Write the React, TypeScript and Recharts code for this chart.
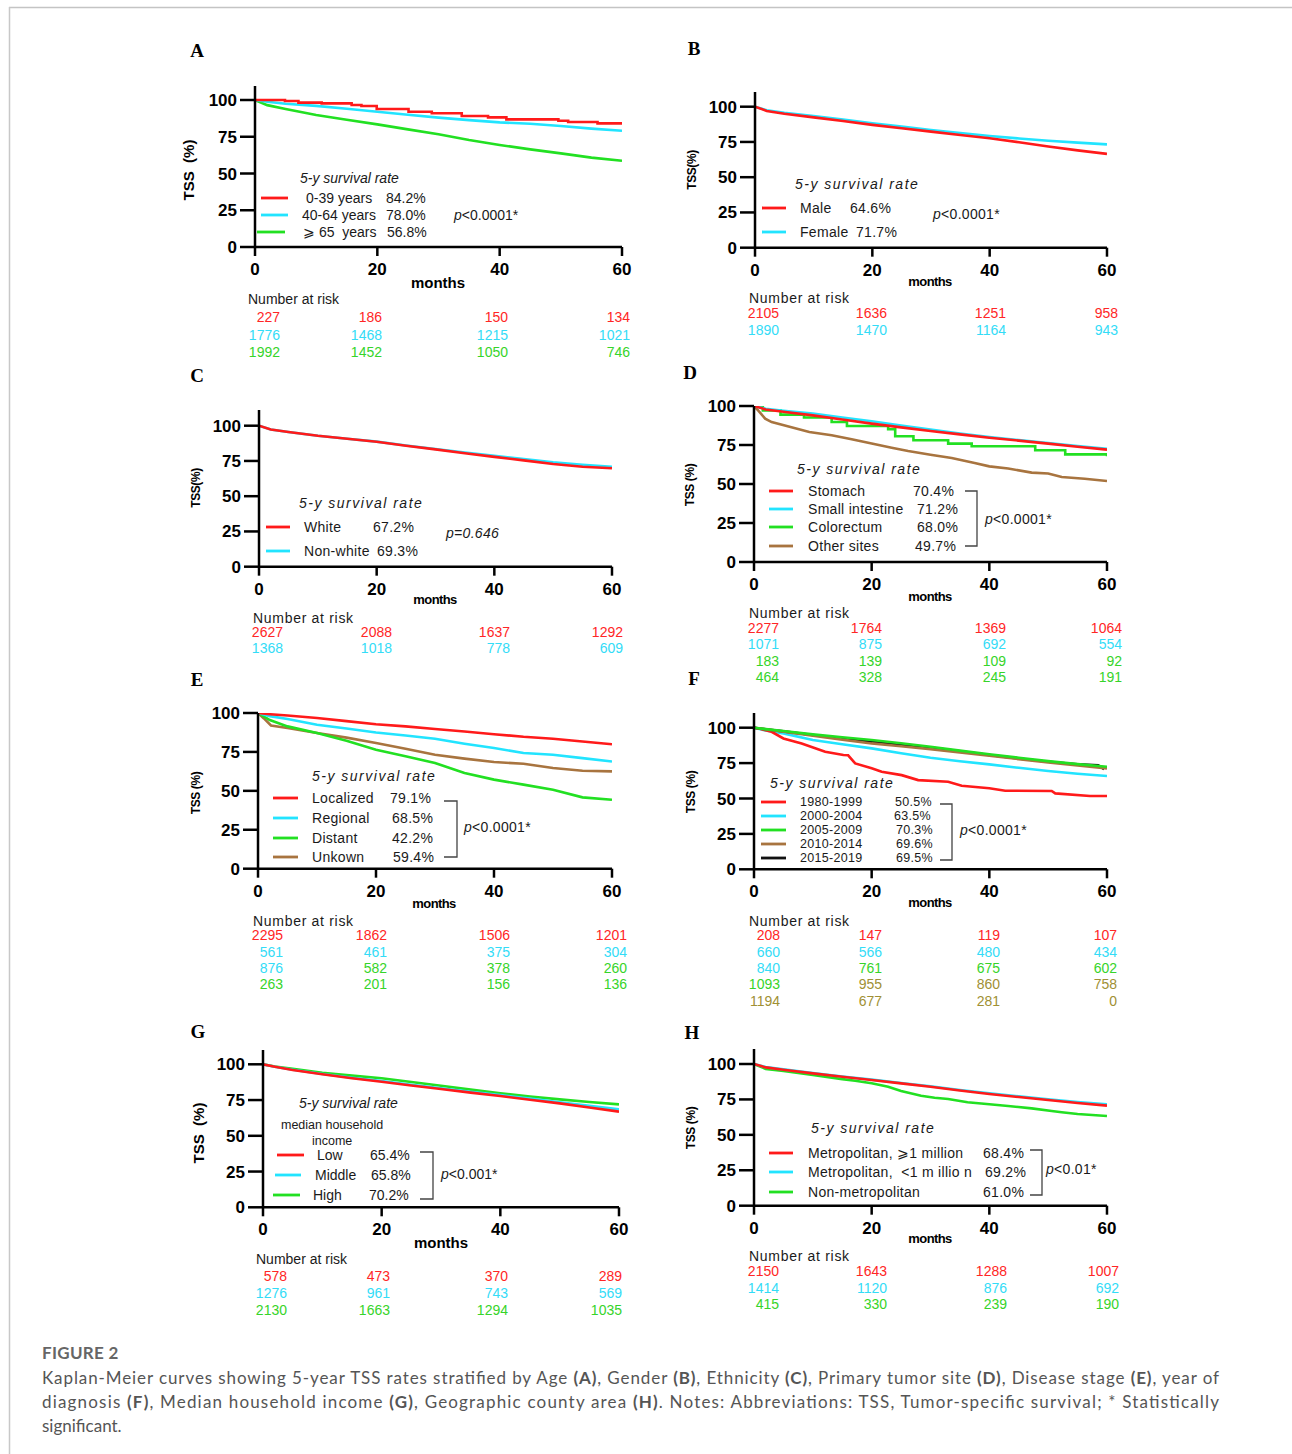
import React from 'react';
import { LineChart, Line, XAxis, YAxis } from 'recharts';

const SANS = '"Liberation Sans", Arial, sans-serif';
const SERIF = '"Liberation Serif", "Times New Roman", serif';
const CAPTION_FONT = 'Lato, "Open Sans", sans-serif';

const RED = '#ff1a1a';
const CYAN = '#22e4ff';
const GREEN = '#22e022';
const BROWN = '#a8743f';
const BLACK = '#111111';
const TRED = '#ff2626';
const TCYAN = '#33dcf7';
const TGREEN = '#36d42a';
const OLIVE = '#a09034';

// shared time grid (months)
const months = [0, 2, 5, 10, 15, 20, 25, 30, 35, 40, 45, 50, 55, 60];

// A - age
const ageYoungMonths = [0, 4.9, 7.1, 10.9, 15.8, 17.4, 19.9, 25.1, 28.9, 33.8, 38.1, 41.1, 49.6, 51.2, 56, 60];
const ageYoung = [100, 99.3, 98.2, 97.7, 96.6, 95.9, 93.9, 92, 91, 89.1, 88.2, 86.8, 85.9, 85, 84.1, 84.1];
const ageMiddle = [100, 98.8, 97.5, 96, 94, 92, 90, 88, 86.3, 84.8, 83.8, 82.3, 80.5, 79.1];
const ageOld = [100, 96.5, 93.9, 89.8, 86.6, 83.4, 80, 76.7, 72.8, 69.4, 66.4, 63.7, 60.8, 58.7];
const ageRisk = [[227, 186, 150, 134], [1776, 1468, 1215, 1021], [1992, 1452, 1050, 746]];

// B - gender
const male = [100, 97, 95, 92.4, 89.8, 87.1, 84.7, 82.3, 79.9, 77.6, 74.8, 71.8, 69, 66.5];
const female = [100, 97.5, 95.6, 93.4, 90.9, 88.2, 85.9, 83.5, 81.3, 79.2, 77.5, 75.9, 74.5, 73.3];
const genderRisk = [[2105, 1636, 1251, 958], [1890, 1470, 1164, 943]];

// C - ethnicity
const white = [100, 97.3, 95.5, 92.9, 90.8, 88.6, 85.8, 83.2, 80.5, 77.9, 75.4, 72.8, 70.9, 69.8];
const nonWhite = [100, 97.3, 95.5, 92.9, 90.8, 88.7, 86, 83.5, 81, 78.7, 76.4, 74, 72.3, 70.9];
const raceRisk = [[2627, 2088, 1637, 1292], [1368, 1018, 778, 609]];

// D - primary site
const stomach = [100, 97.8, 96.3, 94, 91.3, 88.7, 86.3, 84, 81.8, 79.7, 77.8, 75.9, 73.9, 72];
const smallIntestine = [100, 98.2, 97, 95.1, 92.6, 90.2, 87.5, 84.9, 82.4, 80.1, 78.2, 76.3, 74.4, 72.6];
const colorectumMonths = [0, 1.5, 4.5, 8.5, 13.2, 15.8, 22.8, 24, 27.1, 33, 37, 47.8, 52.9, 60];
const colorectum = [100, 97.2, 94.5, 92.6, 89.7, 87.2, 85.1, 80.6, 78, 75.9, 74.2, 71.6, 69, 67.8];
const otherMonths = [0, 0.7, 1.9, 3, 4.6, 9.4, 13.2, 16.6, 20, 23.4, 26.2, 30, 33.6, 37.5, 40, 43.2, 47.2, 50, 52.3, 56.2, 60];
const otherSites = [100, 97.2, 91.9, 89.7, 88.1, 83.3, 81.2, 78.7, 75.9, 73.3, 71.2, 68.8, 66.7, 63.5, 61.3, 59.9, 57.3, 56.7, 54.5, 53.4, 51.9];
const siteRisk = [[2277, 1764, 1369, 1064], [1071, 875, 692, 554], [183, 139, 109, 92], [464, 328, 245, 191]];

// E - stage
const localized = [100, 99.2, 98.4, 96.8, 94.8, 92.8, 91.4, 89.7, 88.1, 86.4, 84.7, 83.5, 81.7, 79.9];
const regional = [100, 98, 96.2, 92.5, 90, 87.5, 85.6, 83.5, 80.3, 77.5, 74.3, 73.2, 71, 68.8];
const distant = [100, 95.5, 91.4, 87.2, 82.1, 76.4, 72.2, 67.9, 61.5, 57.2, 54, 50.7, 45.8, 44.3];
const unknownMonths = [0, 1, 2.2, 5, 10, 15, 20, 25, 30, 35, 40, 45, 50, 55, 60];
const unknownStage = [100, 96.5, 92, 90.4, 87.2, 84.2, 80.7, 77.1, 73.2, 70.7, 68.5, 67.4, 64.7, 62.9, 62.5];
const stageRisk = [[2295, 1862, 1506, 1201], [561, 461, 375, 304], [876, 582, 378, 260], [263, 201, 156, 136]];

// F - year of diagnosis
const y8099Months = [0, 1, 3, 5, 8.1, 12.1, 15.2, 16, 17.2, 20, 21.7, 25.1, 27.9, 33, 35.3, 40, 42.7, 50.6, 51.2, 57.1, 60];
const y8099 = [100, 99.2, 97.1, 92.4, 88.9, 83, 80.7, 80.5, 74.8, 71.3, 68.9, 66.5, 63, 61.8, 59, 57.2, 55.5, 55.3, 53.6, 51.8, 51.8];
const y0004 = [100, 98, 96, 91.3, 88.3, 85.4, 82, 78.8, 76.3, 74.1, 71.7, 69.4, 67.5, 65.9];
const y0509 = [100, 99, 97.7, 95.3, 93.3, 91.3, 89, 86.5, 83.8, 81.2, 78.8, 76.4, 74.3, 72.4];
const y1014 = [100, 98.8, 97.2, 94.3, 91.6, 88.9, 86.9, 84.9, 82.5, 80.2, 77.8, 75.5, 73.3, 71.3];
const y1519Months = [0, 2, 5, 10, 15, 20, 25, 30, 35, 40, 45, 50, 55, 58.5, 59.5];
const y1519 = [100, 98.9, 97.4, 94.8, 92.4, 90.1, 88, 85.9, 83.3, 80.7, 78.3, 76, 74.2, 73.5, 70.8];
const yearRisk = [[208, 147, 119, 107], [660, 566, 480, 434], [840, 761, 675, 602], [1093, 955, 860, 758], [1194, 677, 281, 0]];

// G - income
const incomeLow = [100, 98.3, 96, 93, 90.2, 87.8, 85.2, 82.7, 80.2, 77.8, 75.2, 72.7, 69.8, 66.9];
const incomeMiddle = [100, 98.3, 96.2, 93.2, 90.6, 88.3, 85.7, 83.2, 80.8, 78.5, 76, 73.4, 70.9, 68.5];
const incomeHigh = [100, 98.5, 96.8, 94.1, 92.1, 90.2, 87.6, 85, 82.3, 79.7, 77.5, 75.5, 73.6, 72];
const incomeRisk = [[578, 473, 370, 289], [1276, 961, 743, 569], [2130, 1663, 1294, 1035]];

// H - county area
const metroLarge = [100, 97.6, 96, 93.4, 91, 88.7, 86.3, 84, 81.3, 78.8, 76.7, 74.6, 72.5, 70.6];
const metroSmall = [100, 97.8, 96.2, 93.6, 91.2, 89, 86.6, 84.3, 81.7, 79.3, 77.2, 75.1, 73.2, 71.6];
const nonMetroMonths = [0, 2, 5, 10, 15, 17.2, 20, 22.8, 25, 28.4, 30.7, 33, 36.3, 40, 43.2, 47.2, 50.6, 52.3, 55, 60];
const nonMetro = [100, 96.5, 95, 92.2, 89.3, 88.2, 86.4, 84, 80.9, 77.6, 76.2, 75.3, 73, 71.6, 70.4, 68.7, 66.8, 65.9, 64.7, 63.3];
const areaRisk = [[2150, 1643, 1288, 1007], [1414, 1120, 876, 692], [415, 330, 239, 190]];

const xTicks = [0, 20, 40, 60];
const yTicks = [0, 25, 50, 75, 100];

const same = (c: string) => [c, c, c, c];

type Series = { m: number[]; v: number[]; c: string; step?: boolean };
type LegendRow = { c: string; y: number; l1: number; l2: number; name: string; nx: number; pct: string; px: number };

const panels: any[] = [
  {
    letter: 'A', lx: 197, ly: 50, x0: 255, x1: 622, y100: 100, y0: 247, yTop: 86,
    series: [
      { m: months, v: ageOld, c: GREEN },
      { m: months, v: ageMiddle, c: CYAN },
      { m: ageYoungMonths, v: ageYoung, c: RED, step: true },
    ],
    ytitle: { text: 'TSS\u00a0\u00a0(%)', x: 188, y: 170, size: 15, ls: 0 },
    mlabel: { x: 438, y: 282, size: 15, ls: 0 },
    legend: {
      title: { x: 300, y: 178, ls: 0 }, ls: 0,
      rows: [
        { c: RED, y: 198, l1: 261, l2: 288, name: '0-39 years', nx: 306, pct: '84.2%', px: 386 },
        { c: CYAN, y: 215, l1: 261, l2: 288, name: '40-64 years', nx: 302, pct: '78.0%', px: 386 },
        { c: GREEN, y: 232, l1: 257, l2: 285, name: '\u2A7E 65\u00a0 years', nx: 303, pct: '56.8%', px: 387 },
      ],
      p: { x: 454, y: 215, text: '<0.0001*' },
    },
    risk: { x: 248, y: 299, ls: 0, rows: [317, 335, 352], cols: [280, 382, 508, 630], values: ageRisk, colors: [same(TRED), same(TCYAN), same(TGREEN)] },
  },
  {
    letter: 'B', lx: 694, ly: 48, x0: 755, x1: 1107, y100: 106.7, y0: 247.7, yTop: 92,
    series: [
      { m: months, v: female, c: CYAN },
      { m: months, v: male, c: RED },
    ],
    ytitle: { text: 'TSS(%)', x: 692, y: 170, size: 12, ls: -0.4 },
    mlabel: { x: 930, y: 281, size: 13, ls: -0.6 },
    legend: {
      title: { x: 795, y: 184, ls: 1.5 }, ls: 0.3,
      rows: [
        { c: RED, y: 208, l1: 762, l2: 786, name: 'Male', nx: 800, pct: '64.6%', px: 850 },
        { c: CYAN, y: 232, l1: 762, l2: 786, name: 'Female', nx: 800, pct: '71.7%', px: 856 },
      ],
      p: { x: 933, y: 214, text: '<0.0001*' },
    },
    risk: { x: 749, y: 298, ls: 0.7, rows: [313, 330], cols: [779, 887, 1006, 1118], values: genderRisk, colors: [same(TRED), same(TCYAN)] },
  },
  {
    letter: 'C', lx: 197, ly: 375, x0: 259, x1: 612, y100: 425.7, y0: 566.7, yTop: 410,
    series: [
      { m: months, v: nonWhite, c: CYAN },
      { m: months, v: white, c: RED },
    ],
    ytitle: { text: 'TSS(%)', x: 196, y: 488, size: 12, ls: -0.4 },
    mlabel: { x: 435, y: 599, size: 13, ls: -0.6 },
    legend: {
      title: { x: 299, y: 503, ls: 1.5 }, ls: 0.3,
      rows: [
        { c: RED, y: 527, l1: 266, l2: 290, name: 'White', nx: 304, pct: '67.2%', px: 373 },
        { c: CYAN, y: 551, l1: 266, l2: 290, name: 'Non-white', nx: 304, pct: '69.3%', px: 377 },
      ],
      p: { x: 446, y: 533, text: '=0.646', italic: true },
    },
    risk: { x: 253, y: 618, ls: 0.7, rows: [632, 648], cols: [283, 392, 510, 623], values: raceRisk, colors: [same(TRED), same(TCYAN)] },
  },
  {
    letter: 'D', lx: 690, ly: 372, x0: 754, x1: 1107, y100: 405.7, y0: 561.7, yTop: 405.7,
    series: [
      { m: otherMonths, v: otherSites, c: BROWN },
      { m: colorectumMonths, v: colorectum, c: GREEN, step: true },
      { m: months, v: smallIntestine, c: CYAN },
      { m: months, v: stomach, c: RED },
    ],
    ytitle: { text: 'TSS (%)', x: 690, y: 485, size: 12, ls: -0.4 },
    mlabel: { x: 930, y: 596, size: 13, ls: -0.6 },
    legend: {
      title: { x: 797, y: 469, ls: 1.5 }, ls: 0.3,
      rows: [
        { c: RED, y: 491, l1: 769, l2: 793, name: 'Stomach', nx: 808, pct: '70.4%', px: 913 },
        { c: CYAN, y: 509, l1: 769, l2: 793, name: 'Small intestine', nx: 808, pct: '71.2%', px: 917 },
        { c: GREEN, y: 527, l1: 769, l2: 793, name: 'Colorectum', nx: 808, pct: '68.0%', px: 917 },
        { c: BROWN, y: 546, l1: 769, l2: 793, name: 'Other sites', nx: 808, pct: '49.7%', px: 915 },
      ],
      bracket: [965, 977, 491, 546],
      p: { x: 985, y: 519, text: '<0.0001*' },
    },
    risk: { x: 749, y: 613, ls: 0.7, rows: [628, 644, 661, 677], cols: [779, 882, 1006, 1122], values: siteRisk, colors: [same(TRED), same(TCYAN), same(TGREEN), same(TGREEN)] },
  },
  {
    letter: 'E', lx: 197, ly: 679, x0: 258, x1: 612, y100: 713.3, y0: 869, yTop: 713.3,
    series: [
      { m: unknownMonths, v: unknownStage, c: BROWN },
      { m: months, v: distant, c: GREEN },
      { m: months, v: regional, c: CYAN },
      { m: months, v: localized, c: RED },
    ],
    ytitle: { text: 'TSS (%)', x: 196, y: 793, size: 12, ls: -0.4 },
    mlabel: { x: 434, y: 903, size: 13, ls: -0.6 },
    legend: {
      title: { x: 312, y: 776, ls: 1.5 }, ls: 0.3,
      rows: [
        { c: RED, y: 798, l1: 273, l2: 298, name: 'Localized', nx: 312, pct: '79.1%', px: 390 },
        { c: CYAN, y: 818, l1: 273, l2: 298, name: 'Regional', nx: 312, pct: '68.5%', px: 392 },
        { c: GREEN, y: 838, l1: 273, l2: 298, name: 'Distant', nx: 312, pct: '42.2%', px: 392 },
        { c: BROWN, y: 857, l1: 273, l2: 298, name: 'Unkown', nx: 312, pct: '59.4%', px: 393 },
      ],
      bracket: [444, 457, 801, 857],
      p: { x: 464, y: 827, text: '<0.0001*' },
    },
    risk: {
      x: 253, y: 921, ls: 0.7, rows: [935, 952, 968, 984], cols: [283, 387, 510, 627], values: stageRisk,
      colors: [same(TRED), same(TCYAN), [TCYAN, TGREEN, TGREEN, TGREEN], same(TGREEN)],
    },
  },
  {
    letter: 'F', lx: 694, ly: 678, x0: 754, x1: 1107, y100: 727.7, y0: 869.3, yTop: 713,
    series: [
      { m: months, v: y0004, c: CYAN },
      { m: y8099Months, v: y8099, c: RED },
      { m: y1519Months, v: y1519, c: BLACK },
      { m: months, v: y1014, c: BROWN },
      { m: months, v: y0509, c: GREEN },
    ],
    ytitle: { text: 'TSS (%)', x: 691, y: 792, size: 12, ls: -0.4 },
    mlabel: { x: 930, y: 902, size: 13, ls: -0.6 },
    legend: {
      title: { x: 770, y: 783, ls: 1.5 }, ls: 0.3, size: 12.5,
      rows: [
        { c: RED, y: 802, l1: 761, l2: 786, name: '1980-1999', nx: 800, pct: '50.5%', px: 895 },
        { c: CYAN, y: 816, l1: 761, l2: 786, name: '2000-2004', nx: 800, pct: '63.5%', px: 894 },
        { c: GREEN, y: 830, l1: 761, l2: 786, name: '2005-2009', nx: 800, pct: '70.3%', px: 896 },
        { c: BROWN, y: 844, l1: 761, l2: 786, name: '2010-2014', nx: 800, pct: '69.6%', px: 896 },
        { c: BLACK, y: 858, l1: 761, l2: 786, name: '2015-2019', nx: 800, pct: '69.5%', px: 896 },
      ],
      bracket: [940, 952, 804, 860],
      p: { x: 960, y: 830, text: '<0.0001*' },
    },
    risk: {
      x: 749, y: 921, ls: 0.7, rows: [935, 952, 968, 984, 1001], cols: [780, 882, 1000, 1117], values: yearRisk,
      colors: [same(TRED), same(TCYAN), [TCYAN, TGREEN, TGREEN, TGREEN], [TGREEN, OLIVE, OLIVE, OLIVE], same(OLIVE)],
    },
  },
  {
    letter: 'G', lx: 198, ly: 1031, x0: 263, x1: 619, y100: 1064.3, y0: 1207.3, yTop: 1050,
    series: [
      { m: months, v: incomeHigh, c: GREEN },
      { m: months, v: incomeMiddle, c: CYAN },
      { m: months, v: incomeLow, c: RED },
    ],
    ytitle: { text: 'TSS\u00a0\u00a0(%)', x: 198, y: 1133, size: 15, ls: 0 },
    mlabel: { x: 441, y: 1242, size: 15, ls: 0 },
    legend: {
      title: { x: 299, y: 1103, ls: 0 }, ls: 0,
      sub: [{ text: 'median household', x: 281, y: 1125 }, { text: 'income', x: 312, y: 1141 }],
      rows: [
        { c: RED, y: 1155, l1: 277, l2: 304, name: 'Low', nx: 317, pct: '65.4%', px: 370 },
        { c: CYAN, y: 1175, l1: 275, l2: 301, name: 'Middle', nx: 315, pct: '65.8%', px: 371 },
        { c: GREEN, y: 1195, l1: 273, l2: 300, name: 'High', nx: 313, pct: '70.2%', px: 369 },
      ],
      bracket: [420, 433, 1152, 1199],
      p: { x: 441, y: 1174, text: '<0.001*' },
    },
    risk: { x: 256, y: 1259, ls: 0, rows: [1276, 1293, 1310], cols: [287, 390, 508, 622], values: incomeRisk, colors: [same(TRED), same(TCYAN), same(TGREEN)] },
  },
  {
    letter: 'H', lx: 692, ly: 1032, x0: 754, x1: 1107, y100: 1064, y0: 1205.7, yTop: 1049,
    series: [
      { m: nonMetroMonths, v: nonMetro, c: GREEN },
      { m: months, v: metroSmall, c: CYAN },
      { m: months, v: metroLarge, c: RED },
    ],
    ytitle: { text: 'TSS (%)', x: 691, y: 1128, size: 12, ls: -0.4 },
    mlabel: { x: 930, y: 1238, size: 13, ls: -0.6 },
    legend: {
      title: { x: 811, y: 1128, ls: 1.5 }, ls: 0.3,
      rows: [
        { c: RED, y: 1153, l1: 769, l2: 793, name: 'Metropolitan, \u2A7E1 million', nx: 808, pct: '68.4%', px: 983 },
        { c: CYAN, y: 1172, l1: 769, l2: 793, name: 'Metropolitan,\u00a0 <1 m illio n', nx: 808, pct: '69.2%', px: 985 },
        { c: GREEN, y: 1192, l1: 769, l2: 793, name: 'Non-metropolitan', nx: 808, pct: '61.0%', px: 983 },
      ],
      bracket: [1030, 1042, 1150, 1195],
      p: { x: 1046, y: 1169, text: '<0.01*' },
    },
    risk: { x: 749, y: 1256, ls: 0.7, rows: [1271, 1288, 1304], cols: [779, 887, 1007, 1119], values: areaRisk, colors: [same(TRED), same(TCYAN), same(TGREEN)] },
  },
];

const axisStroke = { stroke: '#000', strokeWidth: 2.5 };
const tickFont = { fill: '#000', fontSize: 17, fontWeight: 700, fontFamily: SANS };

function KMChart({ p }: { p: any }) {
  const YW = 60;
  const MT = 12;
  const MR = 24;
  const XH = 40;
  const plotW = p.x1 - p.x0;
  const plotH = p.y0 - p.yTop;
  const yMax = (100 * (p.y0 - p.yTop)) / (p.y0 - p.y100);
  return (
    <div style={{ position: 'absolute', left: p.x0 - YW, top: p.yTop - MT }}>
      <LineChart width={YW + plotW + MR} height={MT + plotH + XH} margin={{ top: MT, right: MR, left: 0, bottom: 0 }}>
        <XAxis
          dataKey="t"
          type="number"
          domain={[0, 60]}
          ticks={xTicks}
          interval={0}
          allowDataOverflow
          height={XH}
          tickSize={9}
          tickMargin={7}
          axisLine={axisStroke}
          tickLine={axisStroke}
          tick={tickFont}
        />
        <YAxis
          type="number"
          domain={[0, yMax]}
          ticks={yTicks}
          interval={0}
          allowDataOverflow
          width={YW}
          tickSize={15}
          tickMargin={3}
          axisLine={axisStroke}
          tickLine={axisStroke}
          tick={tickFont}
        />
        {p.series.map((s: Series, i: number) => (
          <Line
            key={i}
            data={s.m.map((t, j) => ({ t, v: s.v[j] }))}
            dataKey="v"
            type={s.step ? 'stepAfter' : 'linear'}
            stroke={s.c}
            strokeWidth={2.6}
            dot={false}
            activeDot={false}
            isAnimationActive={false}
          />
        ))}
      </LineChart>
    </div>
  );
}

function PanelText({ p }: { p: any }) {
  const lg = p.legend;
  const rk = p.risk;
  const txt = '#1a1a1a';
  const fs = lg.size || 14;
  return (
    <g>
      <text x={p.lx} y={p.ly} textAnchor="middle" dominantBaseline="central" fontFamily={SERIF} fontWeight={700} fontSize={19} fill="#000">
        {p.letter}
      </text>
      <text
        transform={`translate(${p.ytitle.x},${p.ytitle.y}) rotate(-90)`}
        textAnchor="middle"
        dominantBaseline="central"
        fontFamily={SANS}
        fontWeight={700}
        fontSize={p.ytitle.size}
        letterSpacing={p.ytitle.ls}
        fill="#000"
      >
        {p.ytitle.text}
      </text>
      <text x={p.mlabel.x} y={p.mlabel.y} textAnchor="middle" dominantBaseline="central" fontFamily={SANS} fontWeight={700} fontSize={p.mlabel.size} letterSpacing={p.mlabel.ls} fill="#000">
        months
      </text>
      <text x={lg.title.x} y={lg.title.y} dominantBaseline="central" fontFamily={SANS} fontStyle="italic" fontSize={14} letterSpacing={lg.title.ls} fill={txt}>
        5-y survival rate
      </text>
      {lg.sub &&
        lg.sub.map((s: any, i: number) => (
          <text key={i} x={s.x} y={s.y} dominantBaseline="central" fontFamily={SANS} fontSize={12.5} fill={txt}>
            {s.text}
          </text>
        ))}
      {lg.rows.map((r: LegendRow, i: number) => (
        <g key={i}>
          <line x1={r.l1} x2={r.l2} y1={r.y} y2={r.y} stroke={r.c} strokeWidth={2.8} />
          <text x={r.nx} y={r.y} dominantBaseline="central" fontFamily={SANS} fontSize={fs} letterSpacing={lg.ls} fill={txt}>
            {r.name}
          </text>
          <text x={r.px} y={r.y} dominantBaseline="central" fontFamily={SANS} fontSize={fs} letterSpacing={lg.ls} fill={txt}>
            {r.pct}
          </text>
        </g>
      ))}
      {lg.bracket && (
        <path
          d={`M${lg.bracket[0]},${lg.bracket[2]} H${lg.bracket[1]} V${lg.bracket[3]} H${lg.bracket[0]}`}
          fill="none"
          stroke="#444"
          strokeWidth={1.3}
        />
      )}
      <text x={lg.p.x} y={lg.p.y} dominantBaseline="central" fontFamily={SANS} fontSize={14} letterSpacing={lg.ls} fill={txt} fontStyle={lg.p.italic ? 'italic' : 'normal'}>
        <tspan fontStyle="italic">p</tspan>
        {lg.p.text}
      </text>
      <text x={rk.x} y={rk.y} dominantBaseline="central" fontFamily={SANS} fontSize={14} letterSpacing={rk.ls} fill={txt}>
        Number at risk
      </text>
      {rk.values.map((row: number[], i: number) =>
        row.map((n: number, j: number) => (
          <text
            key={`${i}-${j}`}
            x={rk.cols[j]}
            y={rk.rows[i]}
            textAnchor="end"
            dominantBaseline="central"
            fontFamily={SANS}
            fontSize={14}
            fill={rk.colors[i][j]}
          >
            {n}
          </text>
        ))
      )}
    </g>
  );
}

const captionLines: [string, boolean][][] = [
  [
    ['Kaplan-Meier curves showing 5-year TSS rates stratified by Age ', false], ['(A)', true], [', Gender ', false], ['(B)', true],
    [', Ethnicity ', false], ['(C)', true], [', Primary tumor site ', false], ['(D)', true], [', Disease stage ', false], ['(E)', true], [', year of', false],
  ],
  [
    ['diagnosis ', false], ['(F)', true], [', Median household income ', false], ['(G)', true], [', Geographic county area ', false], ['(H)', true],
    ['. Notes: Abbreviations: TSS, Tumor-specific survival; * Statistically', false],
  ],
  [['significant.', false]],
];
const captionWidths = [1177, 1177, 0];

export default function App() {
  return (
    <div style={{ position: 'absolute', left: 0, top: 0, width: 1292, height: 1454, background: '#fff', overflow: 'hidden' }}>
      {panels.map((p) => (
        <KMChart key={p.letter} p={p} />
      ))}
      <svg width={1292} height={1454} style={{ position: 'absolute', left: 0, top: 0, pointerEvents: 'none' }}>
        <line x1={9} x2={1292} y1={7.5} y2={7.5} stroke="#c4c4c4" strokeWidth={1.5} />
        <line x1={9.5} x2={9.5} y1={7} y2={1454} stroke="#c8c8c8" strokeWidth={1.5} />
        {panels.map((p) => (
          <PanelText key={p.letter} p={p} />
        ))}
        <text x={42} y={1352} dominantBaseline="central" fontFamily={CAPTION_FONT} fontWeight={700} fontSize={17} letterSpacing={0.3} fill="#666">
          FIGURE 2
        </text>
        {captionLines.map((segs, i) => (
          <text
            key={i}
            x={42}
            y={1377 + i * 24}
            dominantBaseline="central"
            fontFamily={CAPTION_FONT}
            fontSize={17}
            fill="#555"
            {...(captionWidths[i] ? { textLength: captionWidths[i], lengthAdjust: 'spacing' } : {})}
          >
            {segs.map(([s, b], j) => (
              <tspan key={j} fontWeight={b ? 700 : 400}>
                {s}
              </tspan>
            ))}
          </text>
        ))}
      </svg>
    </div>
  );
}
